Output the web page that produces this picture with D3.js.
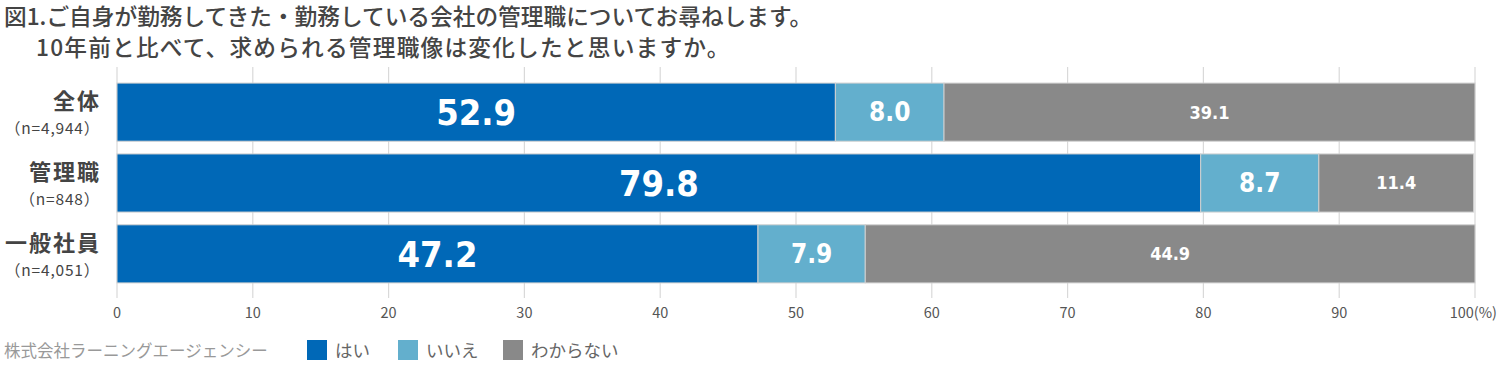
<!DOCTYPE html>
<html>
<head>
<meta charset="utf-8">
<title>管理職像の変化</title>
<script src="https://cdnjs.cloudflare.com/ajax/libs/d3/7.8.5/d3.min.js"></script>
<style>
    body{ margin:0; background:#fff; }
    text{ font-family:"Noto Sans CJK JP","Noto Sans",sans-serif; }
</style>
</head>
<body>
<script>
    // data
    const groups = ['全体', '管理職', '一般社員'];
    const sizes = ['（n=4,944）', '（n=848）', '（n=4,051）'];
    const answers = ['はい', 'いいえ', 'わからない'];
    const yes = [52.9, 79.8, 47.2];
    const no = [8.0, 8.7, 7.9];
    const unsure = [39.1, 11.4, 44.9];
    const ticks = [0, 10, 20, 30, 40, 50, 60, 70, 80, 90, 100];
    const colors = ['#0068b7', '#63afcd', '#898989'];
    const labelSize = [36, 26, 18];

    const W = 1500, H = 368;
    const svg = d3.select('body').append('svg')
        .attr('width', W).attr('height', H);

    // title
    const title = svg.append('text').attr('fill', '#444').attr('font-size', 22.7).attr('font-weight', 500);
    title.append('tspan').attr('x', 4).attr('y', 25)
        .text('図1.ご自身が勤務してきた・勤務している会社の管理職についてお尋ねします。');
    title.append('tspan').attr('x', 36).attr('y', 56)
        .attr('letter-spacing', 1.2)
        .text('10年前と比べて、求められる管理職像は変化したと思いますか。');

    const x = d3.scaleLinear().domain([0, 100]).range([117, 1475]);
    const y = d3.scaleBand().domain(groups).range([76, 290]).paddingInner(0.18).paddingOuter(0.1);

    // grid
    svg.append('g').selectAll('line').data(ticks).enter().append('line')
        .attr('x1', d=>x(d)).attr('x2', d=>x(d))
        .attr('y1', 67).attr('y2', 298)
        .attr('stroke', '#d9d9d9').attr('stroke-width', 1.2);

    // stacked series
    const rows = groups.map((g, i)=>({group:g, 'はい':yes[i], 'いいえ':no[i], 'わからない':unsure[i]}));
    const series = d3.stack().keys(answers)(rows);

    const layer = svg.append('g').selectAll('g').data(series).enter().append('g')
        .attr('fill', (d, i)=>colors[i]);
    layer.selectAll('rect').data(d=>d).enter().append('rect')
        .attr('x', d=>x(d[0]))
        .attr('width', d=>x(d[1]) - x(d[0]))
        .attr('y', d=>y(d.data.group))
        .attr('height', y.bandwidth())
        .attr('stroke', '#d0d0d0').attr('stroke-width', 1);

    layer.each(function(s, si){
        d3.select(this).selectAll('text.val').data(s).enter().append('text')
            .attr('class', 'val')
            .attr('x', d=>(x(d[0]) + x(d[1])) / 2)
            .attr('y', d=>y(d.data.group) + y.bandwidth() / 2)
            .attr('dy', '0.36em')
            .attr('text-anchor', 'middle')
            .attr('fill', '#fff')
            .attr('font-weight', 'bold')
            .attr('font-size', labelSize[si])
            .style('font-family', '"DejaVu Sans Condensed","DejaVu Sans",sans-serif')
            .style('font-stretch', 'condensed')
            .text(d=>(d[1] - d[0]).toFixed(1));
    });

    // category labels
    const cat = svg.append('g').selectAll('g').data(groups).enter().append('g');
    cat.append('text')
        .attr('x', 101).attr('y', d=>y(d) + 26)
        .attr('text-anchor', 'end').attr('fill', '#444')
        .attr('font-size', 22).attr('font-weight', 'bold')
        .attr('letter-spacing', 2)
        .text(d=>d);
    cat.append('text')
        .attr('x', 100).attr('y', (d, i)=>y(d) + 51)
        .attr('text-anchor', 'end').attr('fill', '#444')
        .attr('font-size', 15.5)
        .attr('letter-spacing', 0.8)
        .text((d, i)=>sizes[i]);

    // x axis labels
    svg.append('g').selectAll('text').data(ticks).enter().append('text')
        .attr('x', d=>d === 100 ? 1497 : x(d)).attr('y', 318)
        .attr('text-anchor', d=>d === 100 ? 'end' : 'middle').attr('fill', '#555')
        .attr('font-size', 14.5)
        .text(d=>d === 100 ? '100(%)' : d);

    // footer / legend
    svg.append('text').attr('x', 4).attr('y', 357)
        .attr('fill', '#999').attr('font-size', 16.5)
        .text('株式会社ラーニングエージェンシー');

    const legX = [307, 398, 503];
    const leg = svg.append('g').selectAll('g').data(answers).enter().append('g')
        .attr('transform', (d, i)=>`translate(${legX[i]},340)`);
    leg.append('rect').attr('width', 20).attr('height', 20)
        .attr('fill', (d, i)=>colors[i]);
    leg.append('text').attr('x', 28).attr('y', 17)
        .attr('fill', '#666').attr('font-size', 17.5)
        .text(d=>d);
</script>
</body>
</html>
